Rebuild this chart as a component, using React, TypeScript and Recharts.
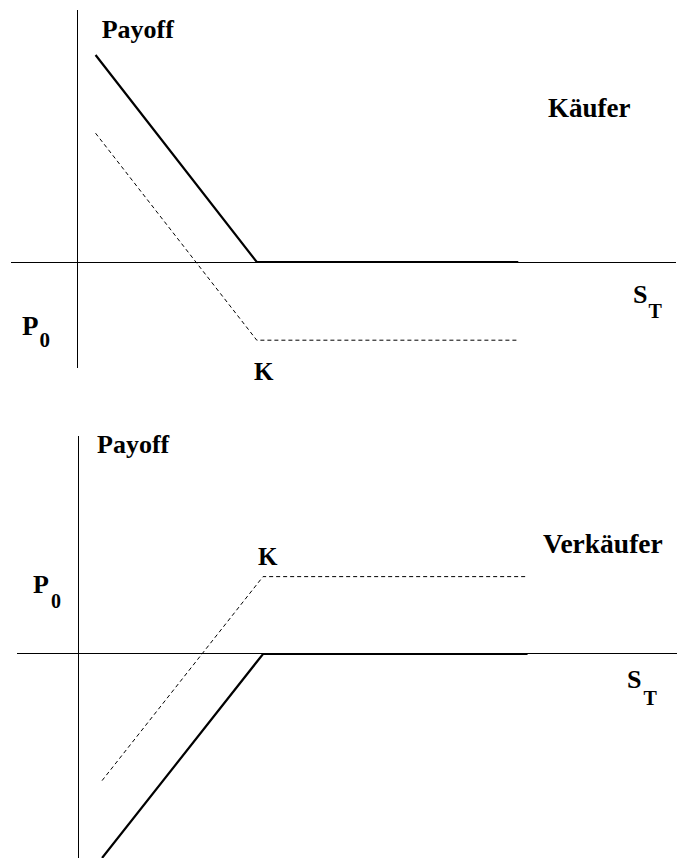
import React from 'react'
import { LineChart, Line, XAxis, YAxis, ReferenceLine, ReferenceDot } from 'recharts'

// Long put (Käufer): price at expiry, payoff, profit after premium
const buyerPrices = [10, 100, 246]
const buyerPayoff = [90, 0, 0]
const buyerProfit = [56, -34, -34]

// Short put (Verkäufer)
const sellerPrices = [13, 100, 243]
const sellerPayoff = [-87, 0, 0]
const sellerProfit = [-54, 33, 33]

const buyerData = buyerPrices.map((s, i) => ({ s, payoff: buyerPayoff[i], profit: buyerProfit[i] }))
const sellerData = sellerPrices.map((s, i) => ({ s, payoff: sellerPayoff[i], profit: sellerProfit[i] }))

const font = { fontFamily: '"Liberation Serif", "Times New Roman", serif', fontWeight: 700, fill: '#000' }

function label(text: string, size: number, sub?: string, subSize?: number, subDx?: number, subDy?: number) {
  return (p: any) => (
    <text x={p.cx} y={p.cy} fontSize={size} style={font}>
      {text}
      {sub ? (
        <tspan dx={subDx} dy={subDy} fontSize={subSize}>
          {sub}
        </tspan>
      ) : null}
    </text>
  )
}

const axisLine = { stroke: '#000', strokeWidth: 1, ifOverflow: 'visible' as const, shapeRendering: 'crispEdges' }

export default function App() {
  return (
    <div style={{ position: 'absolute', left: 0, top: 0, width: 677, height: 858, overflow: 'hidden', background: '#fff' }}>
      <LineChart width={677} height={400} data={buyerData} margin={{ top: 9, right: 62, left: 6, bottom: 23 }}>
        <XAxis type="number" dataKey="s" domain={[-40, 300]} hide />
        <YAxis type="number" domain={[-50, 110]} hide />
        <ReferenceLine segment={[{ x: -37, y: 0 }, { x: 334, y: 0 }]} {...axisLine} />
        <ReferenceLine segment={[{ x: 0, y: -46 }, { x: 0, y: 109.5 }]} {...axisLine} />
        <Line type="linear" dataKey="payoff" stroke="#000" strokeWidth={2.2} dot={false} isAnimationActive={false} />
        <Line type="linear" dataKey="profit" stroke="#000" strokeWidth={1} strokeDasharray="4 3" dot={false} isAnimationActive={false} />
        <ReferenceDot x={13.4} y={97.4} r={0} ifOverflow="visible" shape={label('Payoff', 26)} />
        <ReferenceDot x={262.6} y={63} r={0} ifOverflow="visible" shape={label('Käufer', 27)} />
        <ReferenceDot x={310} y={-17.8} r={0} ifOverflow="visible" shape={label('S', 26, 'T', 20, 1, 15)} />
        <ReferenceDot x={-31} y={-31.7} r={0} ifOverflow="visible" shape={label('P', 27, '0', 21, 1, 12)} />
        <ReferenceDot x={98.4} y={-51.3} r={0} ifOverflow="visible" shape={label('K', 25)} />
      </LineChart>
      <LineChart width={677} height={458} data={sellerData} margin={{ top: 19.5, right: 44, left: 4, bottom: 0 }}>
        <XAxis type="number" dataKey="s" domain={[-40, 300]} hide />
        <YAxis type="number" domain={[-87, 100]} hide />
        <ReferenceLine segment={[{ x: -33, y: 0 }, { x: 324, y: 0 }]} {...axisLine} />
        <ReferenceLine segment={[{ x: 0, y: -87 }, { x: 0, y: 93 }]} {...axisLine} />
        <Line type="linear" dataKey="payoff" stroke="#000" strokeWidth={2.2} dot={false} isAnimationActive={false} />
        <Line type="linear" dataKey="profit" stroke="#000" strokeWidth={1} strokeDasharray="4 3" dot={false} isAnimationActive={false} />
        <ReferenceDot x={10.3} y={85.7} r={0} ifOverflow="visible" shape={label('Payoff', 26)} />
        <ReferenceDot x={97.3} y={38} r={0} ifOverflow="visible" shape={label('K', 25)} />
        <ReferenceDot x={-24.3} y={26} r={0} ifOverflow="visible" shape={label('P', 26, '0', 20, 2, 15)} />
        <ReferenceDot x={251.4} y={43} r={0} ifOverflow="visible" shape={label('Verkäufer', 27.5)} />
        <ReferenceDot x={296.8} y={-14.5} r={0} ifOverflow="visible" shape={label('S', 26, 'T', 20, 2, 17)} />
      </LineChart>
    </div>
  )
}
